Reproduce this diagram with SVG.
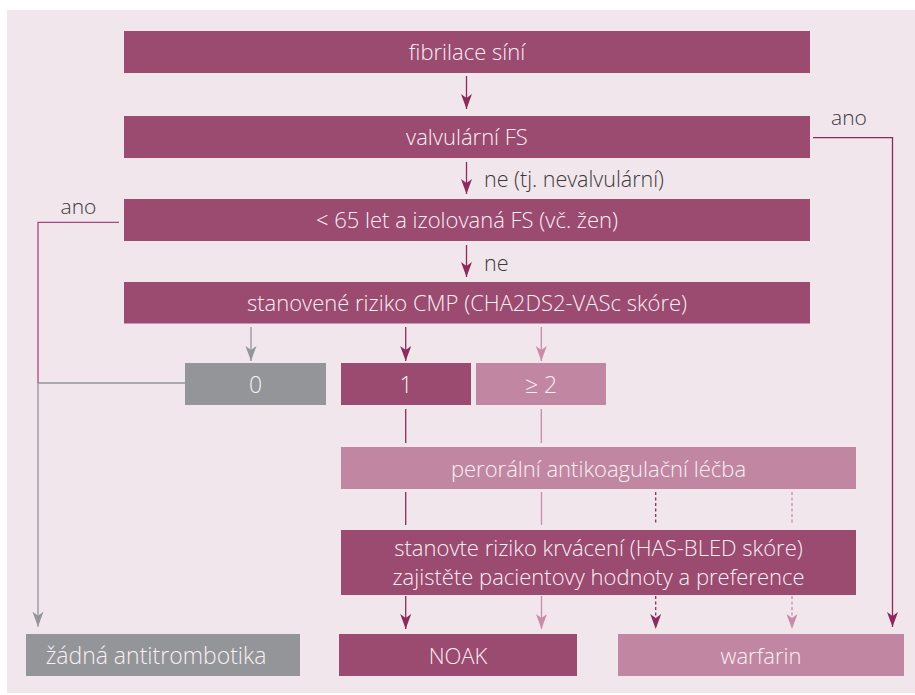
<svg xmlns="http://www.w3.org/2000/svg" width="915" height="695" viewBox="0 0 915 695">
<style>
  .dark { fill: #9b4a70; }
  .light { fill: #c187a2; }
  .gray { fill: #939598; }
  .bt { font-family: "Open Sans", "Noto Sans", "Liberation Sans", sans-serif; font-weight: 300; font-size: 22px; fill: #f9eff4; text-anchor: middle; }
  .lbl { font-family: "Open Sans", "Noto Sans", "Liberation Sans", sans-serif; font-weight: 300; font-size: 21.5px; fill: #3a3a3a; }
  .c { fill: none; stroke-width: 1.3; }
  .cd { stroke: #8c2a5c; }
  .cl { stroke: #c98ba8; }
  .cg { stroke: #939598; }
  .cm { stroke: #a8477c; }
  .dash { stroke-dasharray: 3 2.5; }
</style>
<defs>
  <marker id="aD" viewBox="0 -6 16 12" refX="15" refY="0" markerWidth="16" markerHeight="12" markerUnits="userSpaceOnUse" orient="auto">
    <path d="M0,-5.5 L15,0 L0,5.5 L4,0 Z" fill="#8c2a5c"/>
  </marker>
  <marker id="aL" viewBox="0 -6 16 12" refX="15" refY="0" markerWidth="16" markerHeight="12" markerUnits="userSpaceOnUse" orient="auto">
    <path d="M0,-5.5 L15,0 L0,5.5 L4,0 Z" fill="#c98ba8"/>
  </marker>
  <marker id="aG" viewBox="0 -6 16 12" refX="15" refY="0" markerWidth="16" markerHeight="12" markerUnits="userSpaceOnUse" orient="auto">
    <path d="M0,-5.5 L15,0 L0,5.5 L4,0 Z" fill="#939598"/>
  </marker>
</defs>
<rect x="7" y="10" width="908" height="683" fill="#f2e6ed"/>

<g id="connectors">
  <path class="c cd" d="M466.5,76 V109" marker-end="url(#aD)"/>
  <path class="c cd" d="M466.5,162 V194" marker-end="url(#aD)"/>
  <path class="c cd" d="M466.5,245 V277" marker-end="url(#aD)"/>
  <path class="c cg" d="M251,327 V361" marker-end="url(#aG)"/>
  <path class="c cd" d="M405.7,327 V361" marker-end="url(#aD)"/>
  <path class="c cl" d="M541.3,327 V361" marker-end="url(#aL)"/>
  <path class="c cd" d="M405.7,409 V443"/>
  <path class="c cl" d="M541.3,409 V443"/>
  <path class="c cd" d="M405.7,492 V525"/>
  <path class="c cl" d="M541.5,492 V525"/>
  <path class="c cd dash" d="M655.7,492 V525"/>
  <path class="c cl dash" d="M792,492 V525"/>
  <path class="c cd" d="M405.7,596 V629" marker-end="url(#aD)"/>
  <path class="c cl" d="M541.5,596 V629" marker-end="url(#aL)"/>
  <path class="c cd dash" d="M655.7,596 V629" marker-end="url(#aD)"/>
  <path class="c cl dash" d="M792,596 V629" marker-end="url(#aL)"/>
  <path class="c cd" d="M813,137.7 H892.5 V627" marker-end="url(#aD)"/>
  <path class="c cm" d="M119,222.3 H38 V383"/>
  <path class="c cg" d="M185,383 H38 V626.7" marker-end="url(#aG)"/>
  <text class="lbl" x="484" y="187">ne (tj. nevalvulární)</text>
  <text class="lbl" x="484" y="271">ne</text>
  <text class="lbl" x="831" y="125" style="font-size:21px">ano</text>
  <text class="lbl" x="60.5" y="214" style="font-size:21px">ano</text>
</g>

<g id="n-fibrilace">
  <rect class="dark" x="124" y="31" width="686" height="42"/>
  <text class="bt" x="467" y="60">fibrilace síní</text>
</g>
<g id="n-valvularni">
  <rect class="dark" x="124" y="116" width="686" height="42"/>
  <text class="bt" x="467" y="145">valvulární FS</text>
</g>
<g id="n-vek">
  <rect class="dark" x="124" y="199" width="686" height="42"/>
  <text class="bt" x="467" y="228">&lt; 65 let a izolovaná FS (vč. žen)</text>
</g>
<g id="n-riziko">
  <rect class="dark" x="124" y="282" width="686" height="41.5"/>
  <text class="bt" x="467" y="311">stanovené riziko CMP (CHA2DS2-VASc skóre)</text>
</g>
<g id="n-0">
  <rect class="gray" x="185" y="363" width="141" height="42"/>
  <text class="bt" x="255.5" y="393" style="font-size:23px">0</text>
</g>
<g id="n-1">
  <rect class="dark" x="341" y="363" width="130" height="42"/>
  <text class="bt" x="406" y="393" style="font-size:23px">1</text>
</g>
<g id="n-2">
  <rect class="light" x="476" y="363" width="130" height="42"/>
  <text class="bt" x="541" y="393" style="font-size:23px">≥ 2</text>
</g>
<g id="n-oak">
  <rect class="light" x="341" y="447" width="515" height="42"/>
  <text class="bt" x="598.5" y="477">perorální antikoagulační léčba</text>
</g>
<g id="n-hasbled">
  <rect class="dark" x="341" y="530" width="515" height="65"/>
  <text class="bt" x="598.5" y="556">stanovte riziko krvácení (HAS-BLED skóre)</text>
  <text class="bt" x="598.5" y="585">zajistěte pacientovy hodnoty a preference</text>
</g>
<g id="n-zadna">
  <rect class="gray" x="26" y="634" width="274" height="42"/>
  <text class="bt" x="156" y="664" style="font-size:23px">žádná antitrombotika</text>
</g>
<g id="n-noak">
  <rect class="dark" x="339" y="634" width="238" height="42"/>
  <text class="bt" x="458" y="664">NOAK</text>
</g>
<g id="n-warfarin">
  <rect class="light" x="618" y="634" width="286" height="42"/>
  <text class="bt" x="761" y="664">warfarin</text>
</g>
</svg>
